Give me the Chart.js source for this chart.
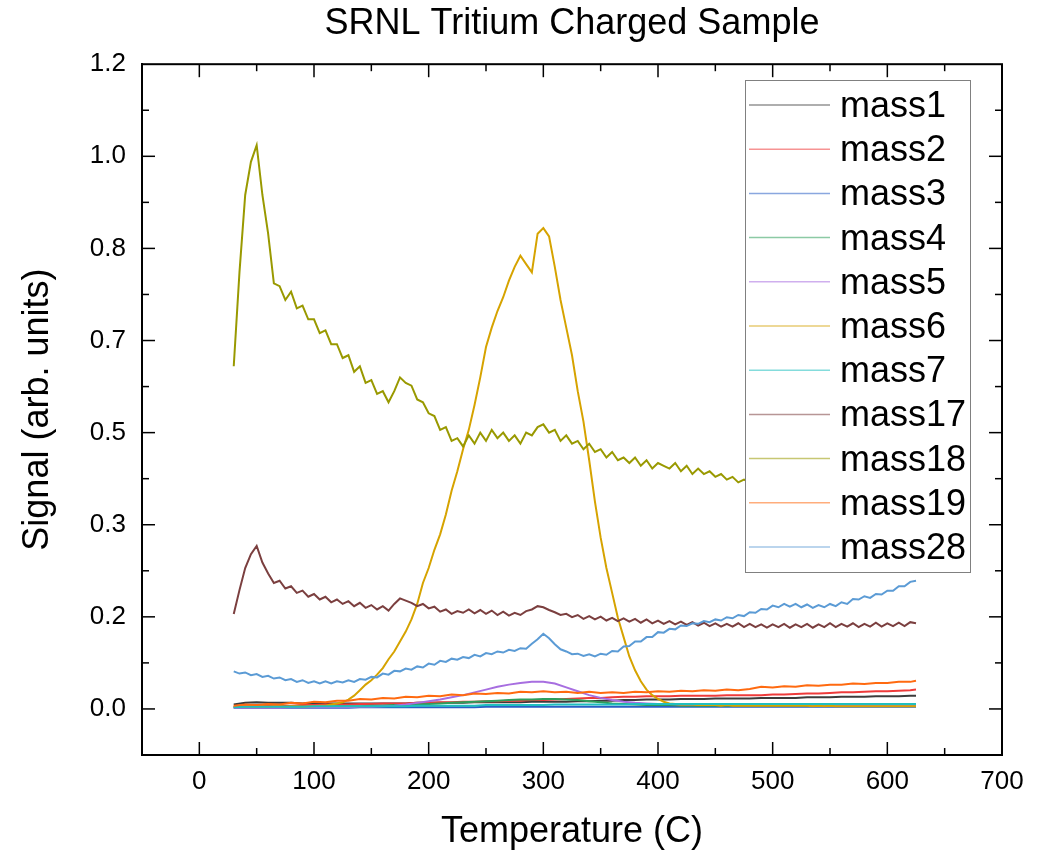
<!DOCTYPE html>
<html>
<head>
<meta charset="utf-8">
<title>SRNL Tritium Charged Sample</title>
<script src="https://cdn.jsdelivr.net/npm/chart.js@4.4.1/dist/chart.umd.min.js"></script>
<style>
  html, body { margin: 0; padding: 0; background: #fff; }
</style>
</head>
<body>
<canvas id="tdsChart" width="1037" height="857"></canvas>
<script>
// Temperature grids (C)
const tempsFine = [30,35,40,45,50,55,60,65,70,75,80,85,90,95,100,105,110,115,120,125,
    130,135,140,145,150,155,160,165,170,175,180,185,190,195,200,205,210,215,220,225,
    230,235,240,245,250,255,260,265,270,275,280,285,290,295,300,305,310,315,320,325,
    330,335,340,345,350,355,360,365,370,375,380,385,390,395,400,405,410,415,420,425,
    430,435,440,445,450,455,460,465,470,475,480,485,490,495,500,505,510,515,520,525,
    530,535,540,545,550,555,560,565,570,575,580,585,590,595,600,605,610,615,620,625];
const tempsCoarse = [30,40,50,60,70,80,90,100,110,120,130,140,150,160,170,180,190,200,210,220,
    230,240,250,260,270,280,290,300,310,320,330,340,350,360,370,380,390,400,410,420,
    430,440,450,460,470,480,490,500,510,520,530,540,550,560,570,580,590,600,610,620,625];

// Axis ticks
const xTickValues = [0, 100, 200, 300, 400, 500, 600, 700];
const yTickValues = [0, 1/6, 2/6, 3/6, 4/6, 5/6, 1, 7/6];

// Signals (arb. units)
const mass1 = [0.008,0.011,0.012,0.011,0.011,0.011,0.010,0.011,0.010,0.010,
    0.010,0.010,0.010,0.010,0.010,0.010,0.011,0.011,0.011,0.011,
    0.011,0.012,0.012,0.012,0.012,0.012,0.013,0.013,0.013,0.013,
    0.014,0.014,0.015,0.015,0.016,0.016,0.017,0.017,0.017,0.018,
    0.018,0.018,0.019,0.019,0.019,0.019,0.020,0.020,0.020,0.020,
    0.021,0.021,0.021,0.022,0.022,0.022,0.023,0.023,0.023,0.024,0.024];
const mass2 = [0.004,0.005,0.005,0.006,0.006,0.006,0.007,0.007,0.008,0.008,
    0.008,0.009,0.009,0.010,0.010,0.010,0.011,0.011,0.012,0.012,
    0.013,0.013,0.014,0.014,0.015,0.015,0.016,0.016,0.017,0.018,
    0.019,0.020,0.020,0.021,0.022,0.022,0.023,0.023,0.023,0.024,
    0.024,0.024,0.024,0.025,0.025,0.025,0.025,0.026,0.026,0.027,
    0.028,0.028,0.029,0.030,0.030,0.031,0.032,0.032,0.033,0.034,0.035];
const mass3 = [0.002,0.002,0.002,0.002,0.002,0.002,0.002,0.002,0.002,0.002,
    0.002,0.003,0.003,0.003,0.003,0.003,0.003,0.003,0.003,0.003,
    0.003,0.003,0.004,0.004,0.004,0.004,0.004,0.004,0.004,0.004,
    0.004,0.004,0.004,0.004,0.004,0.004,0.004,0.004,0.004,0.004,
    0.004,0.004,0.004,0.004,0.004,0.004,0.004,0.004,0.004,0.004,
    0.004,0.004,0.004,0.004,0.004,0.004,0.004,0.004,0.004,0.004,0.004];
const mass4 = [0.003,0.003,0.003,0.003,0.004,0.004,0.004,0.004,0.004,0.005,
    0.005,0.005,0.006,0.006,0.007,0.007,0.008,0.009,0.010,0.011,
    0.012,0.013,0.014,0.015,0.016,0.017,0.017,0.018,0.018,0.017,
    0.016,0.014,0.012,0.010,0.009,0.008,0.007,0.007,0.007,0.006,
    0.006,0.006,0.006,0.006,0.006,0.006,0.006,0.006,0.006,0.006,
    0.006,0.006,0.006,0.006,0.006,0.006,0.006,0.006,0.006,0.006,0.006];
const mass5 = [0.002,0.002,0.002,0.002,0.002,0.003,0.003,0.003,0.003,0.003,
    0.003,0.004,0.004,0.005,0.006,0.008,0.011,0.014,0.017,0.021,
    0.025,0.030,0.035,0.040,0.044,0.047,0.049,0.049,0.046,0.039,
    0.032,0.025,0.020,0.016,0.013,0.011,0.010,0.009,0.009,0.008,
    0.008,0.008,0.008,0.008,0.008,0.008,0.008,0.008,0.008,0.008,
    0.007,0.007,0.007,0.007,0.007,0.007,0.007,0.007,0.007,0.007,0.007];
const mass6 = [0.004,0.005,0.004,0.005,0.004,0.005,0.004,0.005,0.005,0.004,
    0.005,0.005,0.004,0.005,0.005,0.006,0.006,0.008,0.010,0.012,
    0.017,0.024,0.034,0.044,0.052,0.062,0.074,0.090,0.104,0.122,
    0.140,0.162,0.190,0.228,0.255,0.288,0.316,0.352,0.395,0.430,
    0.470,0.505,0.550,0.600,0.655,0.690,0.720,0.745,0.775,0.800,
    0.820,0.805,0.790,0.860,0.870,0.855,0.800,0.740,0.690,0.640,
    0.575,0.520,0.450,0.375,0.310,0.255,0.210,0.165,0.130,0.095,
    0.070,0.050,0.035,0.025,0.018,0.013,0.010,0.009,0.008,0.008,
    0.008,0.007,0.007,0.007,0.007,0.006,0.007,0.006,0.006,0.006,
    0.006,0.006,0.006,0.006,0.006,0.006,0.006,0.006,0.006,0.006,
    0.006,0.005,0.006,0.005,0.006,0.005,0.005,0.005,0.005,0.005,
    0.005,0.005,0.005,0.005,0.005,0.005,0.005,0.005,0.005,0.005];
const mass7 = [0.003,0.004,0.004,0.004,0.004,0.004,0.004,0.005,0.005,0.005,
    0.005,0.005,0.005,0.005,0.005,0.005,0.006,0.006,0.006,0.006,
    0.006,0.006,0.007,0.007,0.007,0.007,0.007,0.007,0.008,0.008,
    0.008,0.008,0.008,0.008,0.008,0.009,0.009,0.009,0.009,0.009,
    0.009,0.009,0.009,0.009,0.009,0.009,0.009,0.009,0.009,0.009,
    0.009,0.009,0.009,0.009,0.009,0.009,0.009,0.009,0.009,0.009,0.009];
const mass17 = [0.172,0.215,0.255,0.280,0.295,0.265,0.245,0.228,0.232,0.218,
    0.222,0.210,0.214,0.203,0.208,0.198,0.203,0.193,0.198,0.190,
    0.195,0.186,0.192,0.183,0.188,0.180,0.186,0.178,0.190,0.200,
    0.196,0.192,0.186,0.190,0.182,0.185,0.176,0.180,0.172,0.177,
    0.174,0.180,0.173,0.179,0.172,0.178,0.170,0.176,0.169,0.174,
    0.170,0.177,0.180,0.186,0.184,0.179,0.175,0.170,0.172,0.166,
    0.170,0.163,0.168,0.162,0.167,0.160,0.165,0.159,0.164,0.158,
    0.163,0.156,0.162,0.155,0.160,0.154,0.159,0.153,0.158,0.152,
    0.157,0.151,0.156,0.150,0.155,0.149,0.154,0.149,0.155,0.148,
    0.154,0.148,0.153,0.147,0.153,0.148,0.154,0.147,0.153,0.148,
    0.154,0.147,0.153,0.148,0.155,0.148,0.154,0.149,0.155,0.148,
    0.154,0.149,0.156,0.149,0.155,0.150,0.156,0.150,0.157,0.155];
const mass18 = [0.620,0.790,0.930,0.990,1.020,0.930,0.860,0.770,0.765,0.740,
    0.755,0.725,0.730,0.705,0.705,0.680,0.685,0.660,0.660,0.635,
    0.640,0.610,0.620,0.590,0.595,0.570,0.575,0.555,0.575,0.600,
    0.590,0.585,0.560,0.555,0.535,0.530,0.505,0.510,0.485,0.490,
    0.475,0.495,0.480,0.500,0.485,0.505,0.490,0.500,0.485,0.495,
    0.480,0.500,0.495,0.510,0.515,0.500,0.505,0.485,0.495,0.480,
    0.485,0.470,0.480,0.465,0.470,0.455,0.465,0.450,0.455,0.445,
    0.455,0.440,0.450,0.435,0.445,0.440,0.435,0.445,0.430,0.440,
    0.425,0.435,0.425,0.430,0.420,0.425,0.415,0.420,0.410,0.415,
    0.410,0.405,0.410,0.400,0.405,0.400,0.405,0.395,0.400,0.395,
    0.400,0.390,0.395,0.390,0.395,0.385,0.390,0.385,0.390,0.385,
    0.385,0.380,0.385,0.380,0.385,0.375,0.380,0.375,0.380,0.380];
const mass19 = [0.006,0.008,0.007,0.009,0.008,0.011,0.010,0.013,0.012,0.015,
    0.015,0.018,0.017,0.020,0.019,0.022,0.021,0.024,0.023,0.026,
    0.025,0.028,0.027,0.029,0.028,0.031,0.030,0.032,0.030,0.031,
    0.029,0.031,0.029,0.030,0.029,0.031,0.030,0.032,0.031,0.033,
    0.032,0.034,0.033,0.035,0.034,0.036,0.040,0.039,0.041,0.040,
    0.043,0.042,0.044,0.044,0.046,0.045,0.047,0.047,0.049,0.049,0.051];
const mass28 = [0.068,0.064,0.066,0.061,0.063,0.058,0.060,0.055,0.057,0.052,
    0.054,0.049,0.052,0.047,0.050,0.046,0.050,0.046,0.050,0.048,
    0.052,0.049,0.054,0.053,0.058,0.057,0.064,0.062,0.069,0.068,
    0.073,0.071,0.077,0.075,0.082,0.080,0.087,0.085,0.091,0.089,
    0.094,0.092,0.098,0.095,0.101,0.099,0.104,0.102,0.107,0.105,
    0.110,0.109,0.118,0.126,0.136,0.128,0.117,0.108,0.104,0.099,
    0.100,0.096,0.099,0.095,0.100,0.098,0.105,0.104,0.113,0.114,
    0.122,0.122,0.130,0.130,0.139,0.138,0.145,0.144,0.151,0.150,
    0.155,0.154,0.159,0.157,0.162,0.160,0.166,0.164,0.170,0.168,
    0.175,0.174,0.181,0.180,0.187,0.184,0.190,0.185,0.190,0.184,
    0.189,0.183,0.188,0.184,0.190,0.186,0.193,0.190,0.199,0.198,
    0.204,0.201,0.208,0.207,0.214,0.214,0.222,0.222,0.230,0.232];

const seriesNames = ['mass1', 'mass2', 'mass3', 'mass4', 'mass5', 'mass6', 'mass7', 'mass17', 'mass18', 'mass19', 'mass28'];
const seriesValues = [mass1, mass2, mass3, mass4, mass5, mass6, mass7, mass17, mass18, mass19, mass28];
const seriesTemps = [tempsCoarse, tempsCoarse, tempsCoarse, tempsCoarse, tempsCoarse, tempsFine, tempsCoarse, tempsFine, tempsFine, tempsCoarse, tempsFine];
const seriesColors = ['#3c3c3c', '#ee3b3b', '#2a5fc4', '#2e9e5b', '#a76ee0', '#d6a300', '#1fbfbf', '#7b3f3f', '#999900', '#ff6a10', '#5b9bd5'];

const FONT = "'Liberation Sans', Arial, sans-serif";
Chart.defaults.font.family = FONT;
Chart.defaults.color = '#000';

const datasets = seriesNames.map((name, i) => ({
    label: name,
    data: seriesTemps[i].map((t, j) => ({ x: t, y: seriesValues[i][j] })),
    borderColor: seriesColors[i],
    backgroundColor: seriesColors[i],
    borderWidth: 2,
    pointRadius: 0,
    tension: 0,
    order: seriesNames.length - i   // later series painted on top
}));

// Box frame with inward major/minor ticks on all four sides
const frameTicks = {
    id: 'frameTicks',
    afterDatasetsDraw(chart) {
        const { ctx, chartArea: { left, right, top, bottom }, scales: { x, y } } = chart;
        const major = 13, minor = 7;
        ctx.save();
        ctx.strokeStyle = '#000';
        const seg = (x1, y1, x2, y2) => { ctx.beginPath(); ctx.moveTo(x1, y1); ctx.lineTo(x2, y2); ctx.stroke(); };
        ctx.lineWidth = 2;
        ctx.strokeRect(left, top, right - left, bottom - top);
        ctx.lineWidth = 1.5;
        xTickValues.forEach(v => {
            const px = x.getPixelForValue(v);
            if (px < right - 1) { seg(px, bottom, px, bottom - major); seg(px, top, px, top + major); }
            const m = x.getPixelForValue(v + 50);
            if (m < right - 1) { seg(m, bottom, m, bottom - minor); seg(m, top, m, top + minor); }
        });
        yTickValues.forEach(v => {
            const py = y.getPixelForValue(v);
            if (py > top + 1) { seg(left, py, left + major, py); seg(right, py, right - major, py); }
            const m = y.getPixelForValue(v + 1 / 12);
            if (m > top + 1) { seg(left, m, left + minor, m); seg(right, m, right - minor, m); }
        });
        ctx.restore();
    }
};

// Opaque legend box drawn over the data, like the original
const legendBox = {
    id: 'legendBox',
    afterDatasetsDraw(chart) {
        const { ctx } = chart;
        const bx = 745, by = 80, bw = 225, bh = 492, row = 44.2;
        ctx.save();
        ctx.fillStyle = '#fff';
        ctx.fillRect(bx, by, bw, bh);
        ctx.strokeStyle = '#808080';
        ctx.lineWidth = 1;
        ctx.strokeRect(bx + 0.5, by + 0.5, bw, bh);
        ctx.font = '36px ' + FONT;
        ctx.textBaseline = 'middle';
        ctx.textAlign = 'left';
        chart.data.datasets.forEach((ds, i) => {
            const ly = by + 25 + i * row;
            ctx.globalAlpha = 0.55;
            ctx.strokeStyle = ds.borderColor;
            ctx.lineWidth = 1.5;
            ctx.beginPath();
            ctx.moveTo(bx + 4, ly);
            ctx.lineTo(bx + 85, ly);
            ctx.stroke();
            ctx.globalAlpha = 1;
            ctx.fillStyle = '#000';
            ctx.fillText(ds.label, bx + 95, ly + 2);
        });
        ctx.restore();
    }
};

const ctx = document.getElementById('tdsChart').getContext('2d');
const tdsChart = new Chart(ctx, {
    type: 'line',
    data: { datasets: datasets },
    options: {
        responsive: false,
        animation: false,
        layout: { padding: { left: 0, right: 35, top: 0, bottom: 0 } },
        plugins: {
            legend: { display: false },
            tooltip: { enabled: false },
            title: {
                display: true,
                fullSize: false,
                text: 'SRNL Tritium Charged Sample',
                color: '#000',
                font: { size: 36, weight: 'normal' },
                padding: { top: 2, bottom: 19 }
            }
        },
        scales: {
            x: {
                type: 'linear',
                min: -50,
                max: 700,
                grid: { display: false, drawTicks: false },
                border: { display: true, color: '#000', width: 2 },
                ticks: { font: { size: 26 }, color: '#000', padding: 11 },
                afterBuildTicks: (scale) => { scale.ticks = xTickValues.map(v => ({ value: v })); },
                afterFit: (scale) => { scale.height = 102; },
                title: { display: true, text: 'Temperature (C)', color: '#000', font: { size: 36 }, padding: { top: 0, bottom: 3 } }
            },
            y: {
                type: 'linear',
                min: -1 / 12,
                max: 7 / 6,
                grid: { display: false, drawTicks: false },
                border: { display: true, color: '#000', width: 2 },
                ticks: {
                    font: { size: 26 },
                    color: '#000',
                    padding: 16,
                    callback: (v) => Number(v).toFixed(1)
                },
                afterBuildTicks: (scale) => { scale.ticks = yTickValues.map(v => ({ value: v })); },
                afterFit: (scale) => { scale.width = 142; },
                title: { display: true, text: 'Signal (arb. units)', color: '#000', font: { size: 36 }, padding: { top: 16, bottom: 0 } }
            }
        }
    },
    plugins: [frameTicks, legendBox]
});
</script>
</body>
</html>
